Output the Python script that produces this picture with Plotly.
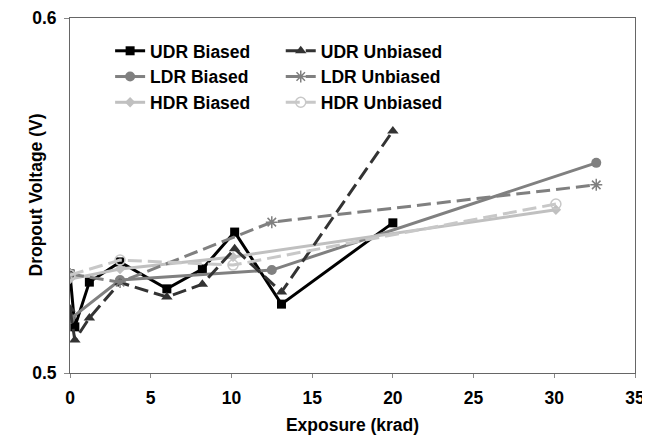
import plotly.graph_objects as go

# Data
udr_x = [0, 0.3, 1.2, 3.1, 6.0, 8.2, 10.2, 13.1, 20.0]
udr_biased = [0.5279, 0.5130, 0.5256, 0.5313, 0.5237, 0.5293, 0.5397, 0.5194, 0.5423]
udr_unbiased = [0.5180, 0.5093, 0.5155, 0.5255, 0.5214, 0.5250, 0.5350, 0.5228, 0.5682]

ldr_x = [0, 3.1, 12.5, 32.6]
ldr_biased = [0.5152, 0.5262, 0.5290, 0.5592]
ldr_unbiased = [0.5279, 0.5256, 0.5425, 0.5530]

hdr_x = [0, 3.1, 10.1, 30.1]
hdr_biased = [0.5265, 0.5293, 0.5327, 0.5460]
hdr_unbiased = [0.5276, 0.5318, 0.5304, 0.5476]

x_ticks = [0, 5, 10, 15, 20, 25, 30, 35]
y_ticks = [0.5, 0.6]

DASH = "14px,6px"
fig = go.Figure()

def add(x, y, name, color, symbol, dash, legend, msize=9, mline=None):
    marker = dict(symbol=symbol, size=msize, color=color)
    if mline:
        marker["line"] = dict(color=color, width=mline)
    fig.add_trace(go.Scatter(
        x=x, y=y, name=name, mode="lines+markers",
        line=dict(color=color, width=3, dash=dash),
        marker=marker, legend=legend,
    ))

add(udr_x, udr_biased, "UDR Biased", "#000000", "square", "solid", "legend")
add(ldr_x, ldr_biased, "LDR Biased", "#808080", "circle", "solid", "legend", msize=10)
add(hdr_x, hdr_biased, "HDR Biased", "#c0c0c0", "diamond", "solid", "legend", msize=8)
add(udr_x, udr_unbiased, "UDR Unbiased", "#333333", "triangle-up", DASH, "legend2", msize=10)
add(ldr_x, ldr_unbiased, "LDR Unbiased", "#808080", "asterisk-open", DASH, "legend2", msize=10, mline=1.5)
add(hdr_x, hdr_unbiased, "HDR Unbiased", "#c8c8c8", "circle-open", DASH, "legend2", msize=10, mline=1.5)

font_b = "Liberation Sans"
FS = 17.5
legend_common = dict(
    orientation="v", bgcolor="rgba(0,0,0,0)", borderwidth=0,
    font=dict(family=font_b, size=FS, color="#000000", weight="bold"),
    tracegroupgap=0, itemwidth=30, yanchor="top",
)

# page body has an 8px margin, so the figure is 642x430 and sits at (8,8)
fig.update_layout(
    width=642, height=430,
    margin=dict(l=62, r=15, t=10, b=65),
    paper_bgcolor="white", plot_bgcolor="white",
    font=dict(family=font_b, color="#000000"),
    legend=dict(x=0.071, y=0.958, xanchor="left", **legend_common),
    legend2=dict(x=0.373, y=0.958, xanchor="left", **legend_common),
    xaxis=dict(
        range=[0, 35], tickvals=x_ticks, ticktext=[str(v) for v in x_ticks],
        showgrid=False, zeroline=False, automargin=False,
        showline=True, linecolor="#666666", linewidth=1, mirror=True,
        ticks="outside", ticklen=4, tickcolor="#888888",
        ticklabelstandoff=5, ticklabeloverflow="allow",
        tickfont=dict(family=font_b, size=FS, color="#000000", weight="bold"),
        title=dict(text="Exposure (krad)", standoff=11,
                   font=dict(family=font_b, size=FS, color="#000000", weight="bold")),
    ),
    yaxis=dict(
        range=[0.5, 0.6], tickvals=y_ticks, ticktext=["0.5", "0.6"],
        showgrid=False, zeroline=False, automargin=False,
        showline=True, linecolor="#666666", linewidth=1, mirror=True,
        ticks="outside", ticklen=5, tickcolor="#888888",
        ticklabelstandoff=4, ticklabeloverflow="allow",
        tickfont=dict(family=font_b, size=FS, color="#000000", weight="bold"),
    ),
    annotations=[dict(
        text="Dropout Voltage (V)", textangle=-90, showarrow=False,
        xref="paper", yref="paper", x=-(62 - 27) / 565, y=0.5,
        xanchor="center", yanchor="middle",
        font=dict(family=font_b, size=FS, color="#000000", weight="bold"),
    )],
)

fig.write_html("out.html")
